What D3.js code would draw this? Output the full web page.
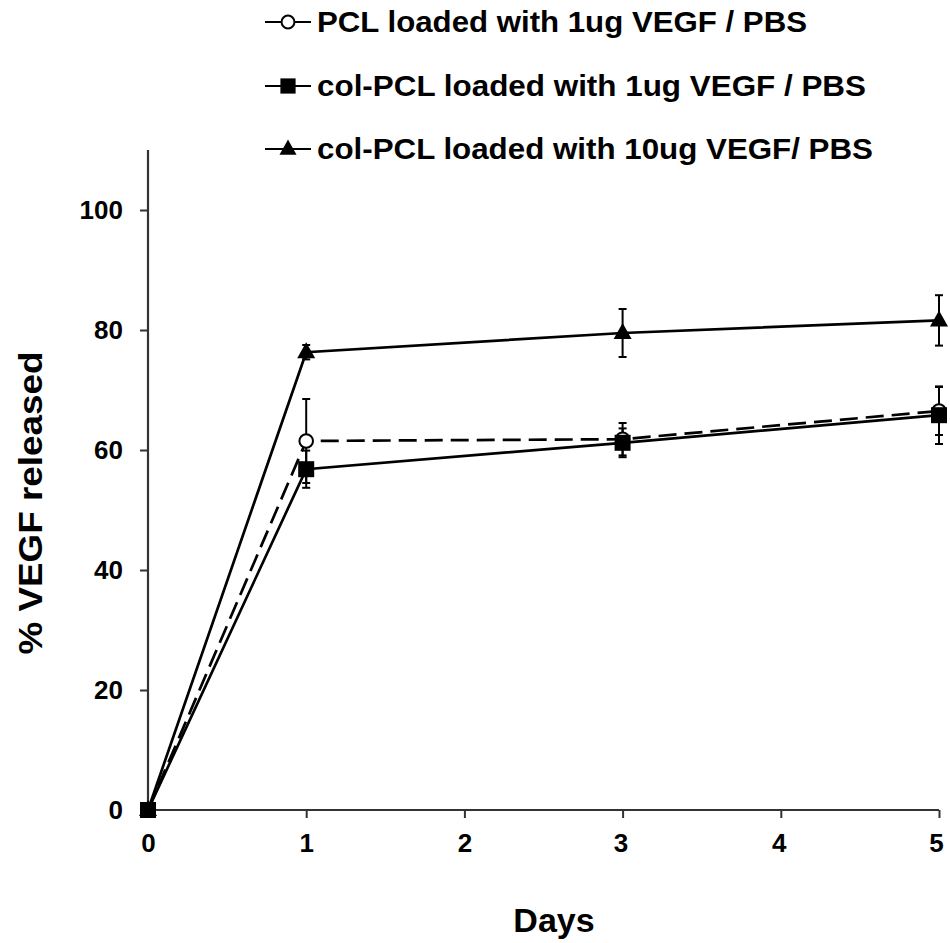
<!DOCTYPE html>
<html>
<head>
<meta charset="utf-8">
<script src="https://cdn.jsdelivr.net/npm/d3@7/dist/d3.min.js"></script>
<style>
  html, body { margin: 0; padding: 0; background: #fff; }
  svg { display: block; }
  text { font-family: "Liberation Sans", Arial, sans-serif; font-weight: bold; fill: #000; }
</style>
</head>
<body>
<svg id="chart" width="950" height="943"></svg>
<script>
// ---- data ----
const days = [0, 1, 3, 5];
const xTicks = [0, 1, 2, 3, 4, 5];
const yTicks = [0, 20, 40, 60, 80, 100];
const seriesNames = [
  "PCL loaded with 1ug VEGF / PBS",
  "col-PCL loaded with 1ug VEGF / PBS",
  "col-PCL loaded with 10ug VEGF/ PBS"
];
const pclValues = [0, 61.5, 61.8, 66.5];
const pclErrors = [0, 7.0, 2.7, 4.0];
const colPcl1Values = [0, 56.8, 61.2, 65.8];
const colPcl1Errors = [0, 3.1, 2.4, 4.8];
const colPcl10Values = [0, 76.3, 79.5, 81.6];
const colPcl10Errors = [0, 1.2, 4.0, 4.2];

const series = [
  { name: seriesNames[0], values: pclValues, errors: pclErrors, marker: "circle", dash: "18,8" },
  { name: seriesNames[1], values: colPcl1Values, errors: colPcl1Errors, marker: "square", dash: null },
  { name: seriesNames[2], values: colPcl10Values, errors: colPcl10Errors, marker: "triangle", dash: null }
];

// ---- layout ----
const svg = d3.select("#chart");
const x = d3.scaleLinear().domain([0, 5]).range([148, 939]);
const y = d3.scaleLinear().domain([0, 110]).range([810, 150]);

// axes
const axisColor = "#333";
const yAxis = svg.append("g").attr("transform", "translate(148,0)")
  .call(d3.axisLeft(y).tickValues(yTicks).tickSize(8).tickPadding(17).tickFormat(d3.format("d")));
const xAxis = svg.append("g").attr("transform", "translate(0,810)")
  .call(d3.axisBottom(x).tickValues(xTicks).tickSize(8).tickPadding(16).tickFormat(d3.format("d")));
[yAxis, xAxis].forEach(g => {
  g.select(".domain").attr("stroke", axisColor).attr("stroke-width", 2.2);
  g.selectAll(".tick line").attr("stroke", axisColor).attr("stroke-width", 2);
  g.selectAll(".tick text").style("font-size", "26px").style("font-family", "Liberation Sans, Arial, sans-serif").style("font-weight", "bold").attr("fill", "#000");
});
xAxis.selectAll(".tick text").attr("dx", d => d === 5 ? -3 : (d >= 3 ? -2 : 0));
yAxis.select(".domain").attr("d", `M0,${y(110)}V${y(0)}`);
xAxis.select(".domain").attr("d", `M${x(0)},0H${x(5)}`);

// titles
svg.append("text").attr("x", 554).attr("y", 932).attr("text-anchor", "middle")
  .style("font-size", "34px").text("Days");
svg.append("text").attr("transform", "translate(42,503) rotate(-90)").attr("text-anchor", "middle")
  .style("font-size", "34px").attr("textLength", 303).attr("lengthAdjust", "spacingAndGlyphs")
  .text("% VEGF released");

// lines
const line = d3.line().x((d, i) => x(days[i])).y(d => y(d));
const plot = svg.append("g");
series.forEach(s => {
  plot.append("path").attr("d", line(s.values)).attr("fill", "none")
    .attr("stroke", "#000").attr("stroke-width", 2.7)
    .attr("stroke-dasharray", s.dash);
});

// error bars
series.forEach(s => {
  s.values.forEach((v, i) => {
    const e = s.errors[i];
    if (!e) return;
    const cx = x(days[i]);
    const g = plot.append("g").attr("stroke", "#000").attr("stroke-width", 2);
    g.append("line").attr("x1", cx).attr("x2", cx).attr("y1", y(v + e)).attr("y2", y(v - e));
    g.append("line").attr("x1", cx - 4).attr("x2", cx + 4).attr("y1", y(v + e)).attr("y2", y(v + e));
    g.append("line").attr("x1", cx - 4).attr("x2", cx + 4).attr("y1", y(v - e)).attr("y2", y(v - e));
  });
});

function drawMarker(g, type, cx, cy, scale) {
  scale = scale || 1;
  if (type === "circle") {
    g.append("circle").attr("cx", cx).attr("cy", cy).attr("r", 6.8 * scale)
      .attr("fill", "#fff").attr("stroke", "#000").attr("stroke-width", 2);
  } else if (type === "square") {
    const s = 16 * scale;
    g.append("rect").attr("x", cx - s / 2).attr("y", cy - s / 2).attr("width", s).attr("height", s)
      .attr("fill", "#000");
  } else {
    const w = 18 * scale, h = 16 * scale;
    g.append("path").attr("d", `M${cx},${cy - h * 0.62}L${cx + w / 2},${cy + h * 0.38}L${cx - w / 2},${cy + h * 0.38}Z`)
      .attr("fill", "#000");
  }
}

// markers
const order = [2, 0, 1];
order.forEach(k => {
  const s = series[k];
  s.values.forEach((v, i) => drawMarker(plot, s.marker, x(days[i]), y(v)));
});

// legend
const legend = svg.append("g");
const legendBaselines = [32, 96, 159];
const legendWidths = [490, 549, 556];
series.forEach((s, k) => {
  const ly = legendBaselines[k] - 10;
  legend.append("line").attr("x1", 265).attr("x2", 311).attr("y1", ly).attr("y2", ly)
    .attr("stroke", "#000").attr("stroke-width", 2.2);
  drawMarker(legend, s.marker, 288, ly, 0.95);
  legend.append("text").attr("x", 317).attr("y", legendBaselines[k])
    .style("font-size", "29.5px").attr("textLength", legendWidths[k]).attr("lengthAdjust", "spacingAndGlyphs")
    .text(s.name);
});
</script>
</body>
</html>
